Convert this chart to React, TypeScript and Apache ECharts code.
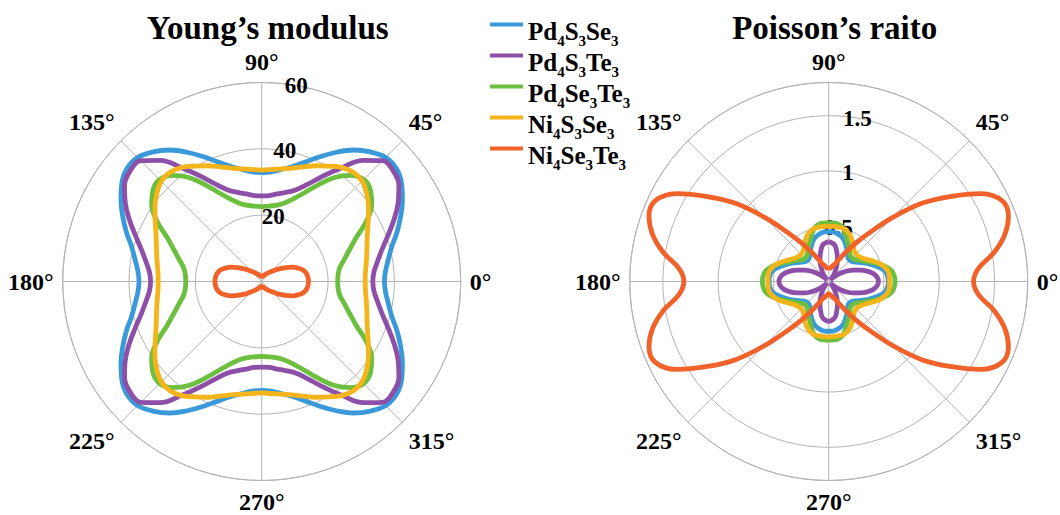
import React, { useEffect, useRef } from 'react';
import * as echarts from 'echarts';

// Sample angles (degrees) in the first quadrant; other quadrants mirror it.
const QUADRANT_ANGLES = [0, 5, 10, 15, 20, 25, 30, 35, 40, 45, 50, 55, 60, 65, 70, 75, 80, 85, 90];

const SERIES_NAMES = ['Pd4S3Se3', 'Pd4S3Te3', 'Pd4Se3Te3', 'Ni4S3Se3', 'Ni4Se3Te3'];
const COLORS = ['#3a9ad9', '#8e4fa8', '#6cbf3f', '#f4b41c', '#f0622a'];

// Young's modulus (GPa), first quadrant
const youngPd4S3Se3 = [37, 37.5, 38.8, 40.6, 43.4, 46.2, 49, 51.5, 53, 52.9, 51, 48.4, 45, 41.5, 38.3, 35.9, 34.3, 33.2, 32.8];
const youngPd4S3Te3 = [33.5, 34, 35.5, 37.6, 40.5, 44, 47.5, 50.5, 51.8, 51.5, 47.7, 41.8, 36.6, 32.2, 29.3, 27.8, 26.8, 26, 25.8];
const youngPd4Se3Te3 = [22.9, 23.1, 23.9, 25.8, 28.2, 31.5, 36.5, 40.5, 42.8, 43.5, 41.8, 38.3, 33.5, 29.2, 26.2, 24.3, 23.3, 22.8, 22.6];
const youngNi4S3Se3 = [31.2, 31.4, 32, 32.8, 33.8, 35.2, 37.1, 39.3, 41.3, 42.8, 43, 42, 40.2, 38.5, 36.8, 35.4, 34.5, 33.9, 33.6];
const youngNi4Se3Te3 = [14.1, 14.0, 13.7, 13.0, 11.7, 10.2, 8.4, 6.8, 5.4, 4.4, 3.7, 3.1, 2.6, 2.3, 2.0, 1.8, 1.6, 1.5, 1.5];

// Poisson's ratio, first quadrant
const poissonPd4S3Se3 = [0.54, 0.535, 0.52, 0.48, 0.43, 0.385, 0.34, 0.305, 0.28, 0.27, 0.275, 0.295, 0.33, 0.365, 0.40, 0.425, 0.44, 0.45, 0.45];
const poissonPd4S3Te3 = [0.45, 0.44, 0.41, 0.36, 0.30, 0.245, 0.19, 0.13, 0.07, 0.02, 0.05, 0.09, 0.13, 0.18, 0.23, 0.28, 0.33, 0.35, 0.36];
const poissonPd4Se3Te3 = [0.60, 0.595, 0.575, 0.53, 0.47, 0.415, 0.37, 0.335, 0.31, 0.30, 0.305, 0.33, 0.365, 0.40, 0.45, 0.50, 0.525, 0.53, 0.53];
const poissonNi4S3Se3 = [0.55, 0.55, 0.545, 0.52, 0.485, 0.44, 0.40, 0.37, 0.355, 0.35, 0.36, 0.39, 0.425, 0.46, 0.485, 0.50, 0.50, 0.50, 0.50];
const poissonNi4Se3Te3 = [1.31, 1.36, 1.52, 1.65, 1.73, 1.73, 1.59, 1.34, 1.10, 0.82, 0.58, 0.42, 0.30, 0.22, 0.17, 0.15, 0.13, 0.12, 0.11];

const YOUNG = [youngPd4S3Se3, youngPd4S3Te3, youngPd4Se3Te3, youngNi4S3Se3, youngNi4Se3Te3];
const POISSON = [poissonPd4S3Se3, poissonPd4S3Te3, poissonPd4Se3Te3, poissonNi4S3Se3, poissonNi4Se3Te3];

const TITLES = ['Young\u2019s modulus', 'Poisson\u2019s raito'];

const FONT = 'Liberation Serif';
const GRID = '#b3b3b3';

// Build full curve (angle axis runs 90..450) from first-quadrant readings
function mirror(q: number[]): [number, number][] {
  const n = QUADRANT_ANGLES.length;
  const pts: [number, number][] = [];
  for (let i = n - 1; i >= 0; i--) pts.push([q[i], 180 - QUADRANT_ANGLES[i]]);
  for (let i = 1; i < n; i++) pts.push([q[i], 180 + QUADRANT_ANGLES[i]]);
  for (let i = n - 2; i >= 0; i--) pts.push([q[i], 360 - QUADRANT_ANGLES[i]]);
  for (let i = 1; i < n; i++) pts.push([q[i], 360 + QUADRANT_ANGLES[i]]);
  return pts;
}

const richName = (name: string) => name.replace(/(\D+)(\d)/g, '{n|$1}{s|$2}');

export default function App() {
  const ref = useRef<HTMLDivElement>(null);
  useEffect(() => {
    if (!ref.current) return;
    const chart = echarts.init(ref.current, undefined, { renderer: 'svg' });
    const centers = [[261.7, 281.5], [828.7, 281.5]];
    const R = 199;
    const polar: any[] = [];
    const angleAxis: any[] = [];
    const radiusAxis: any[] = [];
    const scales = [
      { max: 60, interval: 20 },
      { max: 1.8, interval: 0.5 },
    ];
    centers.forEach((c, k) => {
      polar.push({ center: c, radius: R });
      polar.push({ center: c, radius: R });
      angleAxis.push({
        polarIndex: 2 * k,
        type: 'value',
        min: 90,
        max: 450,
        interval: 45,
        startAngle: 90,
        clockwise: false,
        axisLine: { lineStyle: { color: GRID, width: 1 } },
        axisTick: { show: false },
        axisLabel: {
          margin: 9,
          formatter: (v: number) => `{a|${v % 360}\u00b0}`,
          fontFamily: FONT,
          fontWeight: 'bold',
          fontSize: 24,
          color: '#000',
          rich: { a: { fontFamily: FONT, fontWeight: 'bold', fontSize: 24, color: '#000' } },
        },
        splitLine: { show: true, lineStyle: { color: GRID, width: 1 } },
      });
      angleAxis.push({
        polarIndex: 2 * k + 1,
        type: 'value',
        min: 80,
        max: 440,
        startAngle: 80,
        clockwise: false,
        show: false,
      });
      radiusAxis.push({
        polarIndex: 2 * k,
        type: 'value',
        min: 0,
        max: scales[k].max,
        interval: scales[k].interval,
        axisLine: { show: false },
        axisTick: { show: false },
        axisLabel: { show: false },
        splitLine: { show: true, lineStyle: { color: GRID, width: 1 } },
      });
      radiusAxis.push({
        polarIndex: 2 * k + 1,
        type: 'value',
        min: 0,
        max: scales[k].max,
        interval: scales[k].interval,
        axisLine: { show: false },
        axisTick: { show: false },
        splitLine: { show: false },
        axisLabel: {
          margin: 0,
          align: 'center',
          verticalAlign: 'middle',
          showMinLabel: false,
          showMaxLabel: k === 0,
          formatter: (v: number) => `{a|${v}}`,
          fontFamily: FONT,
          fontWeight: 'bold',
          fontSize: 23,
          color: '#000',
          rich: { a: { fontFamily: FONT, fontWeight: 'bold', fontSize: 23, color: '#000' } },
        },
      });
    });

    const series: any[] = [];
    [YOUNG, POISSON].forEach((set, k) => {
      set.forEach((q, i) => {
        series.push({
          name: SERIES_NAMES[i],
          type: 'line',
          coordinateSystem: 'polar',
          polarIndex: 2 * k,
          data: mirror(q),
          smooth: 0.4,
          showSymbol: false,
          symbol: 'none',
          color: COLORS[i],
          lineStyle: { color: COLORS[i], width: 4.8 },
        });
      });
    });

    chart.setOption({
      animation: false,
      backgroundColor: '#fff',
      textStyle: { fontFamily: FONT, fontWeight: 'bold', color: '#000' },
      title: TITLES.map((t, k) => ({
        text: t,
        left: centers[k][0] + 1,
        top: 6,
        textAlign: 'center',
        textStyle: { fontFamily: FONT, fontWeight: 'bold', fontSize: 33, color: '#000' },
      })),
      legend: {
        data: SERIES_NAMES,
        orient: 'vertical',
        left: 485,
        top: 7,
        icon: 'rect',
        itemWidth: 33,
        itemHeight: 4,
        itemGap: -5,
        formatter: richName,
        textStyle: {
          color: '#000',
          fontFamily: FONT,
          rich: {
            n: { fontFamily: FONT, fontWeight: 'bold', fontSize: 25, lineHeight: 25, verticalAlign: 'top', padding: [7, 0, 0, 0], color: '#000' },
            s: { fontFamily: FONT, fontWeight: 'bold', fontSize: 15, lineHeight: 15, verticalAlign: 'top', padding: [21, 0, 0, 0], color: '#000' },
          },
        },
      },
      polar,
      angleAxis,
      radiusAxis,
      series,
    });
    return () => chart.dispose();
  }, []);
  return (
    <div
      ref={ref}
      style={{ position: 'fixed', left: 0, top: 0, width: 1060, height: 515, background: '#fff' }}
    />
  );
}
